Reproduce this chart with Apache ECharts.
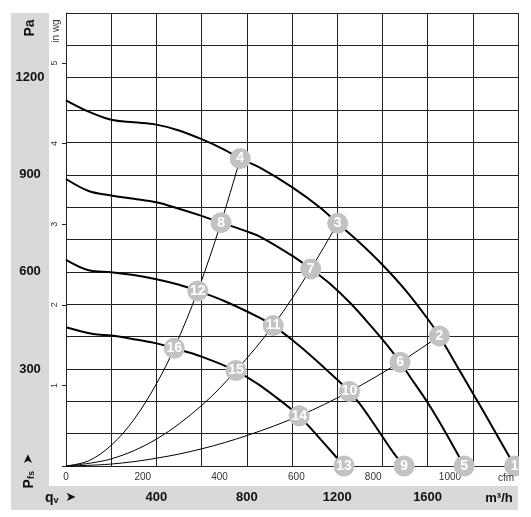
<!DOCTYPE html>
<html>
<head>
<meta charset="utf-8">
<script src="https://cdn.jsdelivr.net/npm/echarts@6/dist/echarts.min.js"></script>
<style>
html,body{margin:0;padding:0;background:#fff;}
#chart{width:531px;height:517px;}
</style>
</head>
<body>
<div id="chart"></div>
<script>
// ---- Data (flow in m³/h, pressure in Pa) ----
const fanCurve1 = [[0,1130],[100,1095],[200,1070],[300,1062],[400,1055],[500,1037],[600,1010],[700,978],[771,950],[858,922],[1000,862],[1124,799],[1202,750],[1300,690],[1400,622],[1500,545],[1600,455],[1652,402],[1750,285],[1850,165],[1985,0]];
const fanCurve2 = [[0,887],[100,850],[200,836],[300,826],[400,815],[500,795],[600,773],[686,752],[800,725],[858,709],[1000,650],[1083,609],[1168,563],[1260,502],[1350,432],[1420,374],[1478,321],[1522,276],[1600,196],[1680,103],[1762,0]];
const fanCurve3 = [[0,637],[100,605],[200,599],[300,590],[400,577],[500,560],[583,541],[700,510],[858,458],[917,434],[1000,390],[1100,331],[1198,268],[1254,230],[1300,192],[1350,143],[1400,91],[1450,40],[1496,0]];
const fanCurve4 = [[0,429],[121,408],[200,403],[300,392],[400,379],[479,364],[600,338],[752,295],[800,275],[858,249],[930,212],[1000,174],[1032,155],[1100,103],[1165,52],[1230,0]];
const systemCurveA = [[0,0],[100,16],[200,64],[300,143],[400,254],[479,364],[583,541],[686,752],[771,950]];
const systemCurveB = [[0,0],[200,22],[400,83],[600,187],[752,295],[917,434],[1083,609],[1202,750]];
const systemCurveC = [[0,0],[200,6],[400,24],[600,53],[800,94],[1032,155],[1254,230],[1478,321],[1652,402]];
const pointLabels = ['1','2','3','4','5','6','7','8','9','10','11','12','13','14','15','16'];
const pointFlow = [1985,1652,1202,771,1762,1478,1083,686,1496,1254,917,583,1230,1032,752,479];
const pointPa = [0,402,750,950,0,321,609,752,0,230,434,541,0,155,295,364];
const paTickLabels = [300,600,900,1200];
const flowTickLabels = [400,800,1200,1600];
const cfmTickLabels = [0,200,400,600,800,1000];
const inwgTickLabels = [1,2,3,4,5];
const FLOW_MAX = 2000, PA_MAX = 1400;
const M3H_PER_CFM = 1.699011, PA_PER_INWG = 249.0889;

const chart = echarts.init(document.getElementById('chart'));
const FONT = 'Liberation Sans, Arial, sans-serif';
const gridLine = {show:true, lineStyle:{color:'#222', width:1, type:'solid'}};

function fanSeries(d){return {type:'line', xAxisIndex:0, yAxisIndex:0, data:d, smooth:0.35, symbol:'none', lineStyle:{color:'#000', width:2}, z:3, silent:true};}
function sysSeries(d){return {type:'line', xAxisIndex:0, yAxisIndex:0, data:d, smooth:0.35, symbol:'none', lineStyle:{color:'#000', width:1}, z:2, silent:true};}

const points = pointLabels.map((n,i)=>({name:n, value:[pointFlow[i], pointPa[i]]}));

chart.setOption({
  animation:false,
  backgroundColor:'#fff',
  grid:{left:66, top:13, right:13, bottom:51, containLabel:false},
  xAxis:[
    {type:'value', min:0, max:FLOW_MAX, interval:200, position:'bottom',
     axisLine:{show:true, lineStyle:{color:'#222', width:1}}, axisTick:{show:false},
     splitLine:gridLine,
     axisLabel:{show:true, margin:25, fontFamily:FONT, fontSize:13, fontWeight:'bold', color:'#111',
       formatter:v=>flowTickLabels.indexOf(v)>=0?String(v):''}},
    {type:'value', min:0, max:FLOW_MAX/M3H_PER_CFM, interval:200, position:'bottom',
     axisLine:{show:false}, axisTick:{show:false}, splitLine:{show:false},
     axisLabel:{show:true, margin:6, fontFamily:FONT, fontSize:10, color:'#333', showMaxLabel:false,
       formatter:v=>cfmTickLabels.indexOf(v)>=0?String(v):''}}
  ],
  yAxis:[
    {type:'value', min:0, max:PA_MAX, interval:100, position:'left',
     axisLine:{show:true, lineStyle:{color:'#222', width:1}}, axisTick:{show:false},
     splitLine:gridLine,
     axisLabel:{show:true, margin:36, align:'center', fontFamily:FONT, fontSize:13, fontWeight:'bold', color:'#111',
       formatter:v=>paTickLabels.indexOf(v)>=0?String(v):''}},
    {type:'value', min:0, max:PA_MAX/PA_PER_INWG, interval:1, position:'left',
     axisLine:{show:false}, splitLine:{show:false},
     axisTick:{show:true, inside:false, length:4, lineStyle:{color:'#222'}},
     axisLabel:{show:true, margin:7, rotate:90, fontFamily:FONT, fontSize:9, color:'#333', showMaxLabel:false,
       formatter:v=>inwgTickLabels.indexOf(v)>=0?String(v):''}}
  ],
  graphic:{elements:[
    {type:'rect', shape:{x:11, y:13, width:38, height:497}, style:{fill:'#d9d9d9'}, z:-10, silent:true},
    {type:'rect', shape:{x:11, y:486, width:507, height:24}, style:{fill:'#d9d9d9'}, z:-10, silent:true},
    {type:'rect', shape:{x:519, y:0, width:12, height:517}, style:{fill:'#fff'}, z:100, silent:true},
    {type:'text', x:30, y:28, rotation:Math.PI/2, z:50,
     style:{text:'Pa', fontFamily:FONT, fontSize:14, fontWeight:'bold', fill:'#111', align:'center', verticalAlign:'middle'}},
    {type:'text', x:56, y:31, rotation:Math.PI/2, z:50,
     style:{text:'in wg', fontFamily:FONT, fontSize:10, fill:'#333', align:'center', verticalAlign:'middle'}},
    {type:'text', x:29, y:471, rotation:Math.PI/2, z:50,
     style:{text:'{p|P}{s|fs}  {a|➤}', align:'center', verticalAlign:'middle',
       rich:{p:{fontFamily:FONT, fontSize:14, fontWeight:'bold', fill:'#111', color:'#111'},
             s:{fontFamily:FONT, fontSize:9, fontWeight:'bold', fill:'#111', color:'#111', verticalAlign:'bottom', padding:[6,0,0,0]},
             a:{fontFamily:'DejaVu Sans', fontSize:13, fill:'#111', color:'#111'}}}},
    {type:'text', x:45, y:498, z:50,
     style:{text:'{p|q}{s|v}  {a|➤}', align:'left', verticalAlign:'middle',
       rich:{p:{fontFamily:FONT, fontSize:14, fontWeight:'bold', fill:'#111', color:'#111'},
             s:{fontFamily:FONT, fontSize:9, fontWeight:'bold', fill:'#111', color:'#111', padding:[5,0,0,0]},
             a:{fontFamily:'DejaVu Sans', fontSize:13, fill:'#111', color:'#111'}}}},
    {type:'text', x:499, y:498, z:50,
     style:{text:'m³/h', fontFamily:FONT, fontSize:13, fontWeight:'bold', fill:'#111', align:'center', verticalAlign:'middle'}},
    {type:'text', x:506, y:478, z:50,
     style:{text:'cfm', fontFamily:FONT, fontSize:10, fill:'#333', align:'center', verticalAlign:'middle'}}
  ]},
  series:[
    sysSeries(systemCurveA), sysSeries(systemCurveB), sysSeries(systemCurveC),
    fanSeries(fanCurve1), fanSeries(fanCurve2), fanSeries(fanCurve3), fanSeries(fanCurve4),
    {type:'scatter', xAxisIndex:0, yAxisIndex:0, data:points, symbol:'circle', symbolSize:21, clip:false, z:5,
     itemStyle:{color:'#c2c2c2', opacity:1},
     label:{show:true, position:'inside', formatter:p=>p.name, color:'#fff', fontFamily:FONT, fontSize:14, fontWeight:'bold'}}
  ]
});
</script>
</body>
</html>
